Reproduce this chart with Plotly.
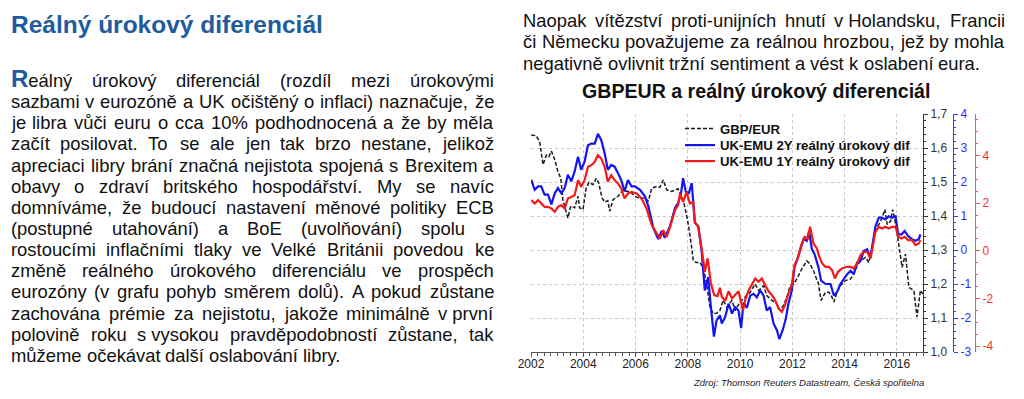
import plotly.graph_objects as go

# ---------------- data ----------------
gbp_t = [2002.01, 2002.20, 2002.33, 2002.46, 2002.59, 2002.68, 2002.78, 2002.91, 2003.03, 2003.14,
         2003.22, 2003.31, 2003.41, 2003.52, 2003.67, 2003.80, 2003.86, 2003.99, 2004.11, 2004.22,
         2004.37, 2004.50, 2004.59, 2004.72, 2004.82, 2004.94, 2005.01, 2005.14, 2005.33, 2005.52,
         2005.68, 2005.79, 2005.98, 2006.17, 2006.36, 2006.49, 2006.62, 2006.81, 2006.93, 2007.06,
         2007.19, 2007.38, 2007.51, 2007.63, 2007.76, 2007.82, 2007.95, 2008.02, 2008.15, 2008.21,
         2008.34, 2008.46, 2008.59, 2008.72, 2008.85, 2008.97, 2009.10, 2009.23, 2009.35, 2009.50,
         2009.69, 2009.81, 2010.00, 2010.20, 2010.39, 2010.58, 2010.71, 2010.90, 2011.02, 2011.22,
         2011.41, 2011.53, 2011.66, 2011.79, 2011.92, 2012.05, 2012.21, 2012.36, 2012.55, 2012.68,
         2012.81, 2013.00, 2013.10, 2013.27, 2013.40, 2013.52, 2013.59, 2013.71, 2013.84, 2014.03,
         2014.23, 2014.35, 2014.48, 2014.61, 2014.80, 2014.93, 2015.05, 2015.18, 2015.31, 2015.43,
         2015.54, 2015.63, 2015.76, 2015.84, 2015.97, 2016.07, 2016.20, 2016.33, 2016.46, 2016.65,
         2016.77, 2016.90, 2016.99]
gbp_v = [1.638, 1.636, 1.618, 1.551, 1.579, 1.574, 1.591, 1.565, 1.531, 1.511,
         1.448, 1.424, 1.394, 1.429, 1.424, 1.458, 1.424, 1.419, 1.482, 1.499,
         1.492, 1.511, 1.497, 1.453, 1.441, 1.445, 1.414, 1.448, 1.458, 1.477,
         1.472, 1.472, 1.458, 1.451, 1.453, 1.443, 1.482, 1.487, 1.484, 1.506,
         1.477, 1.472, 1.477, 1.480, 1.458, 1.449, 1.404, 1.375, 1.307, 1.268,
         1.263, 1.263, 1.249, 1.200, 1.132, 1.113, 1.114, 1.122, 1.152, 1.132,
         1.152, 1.122, 1.147, 1.161, 1.176, 1.200, 1.181, 1.195, 1.166, 1.152,
         1.142, 1.122, 1.137, 1.161, 1.195, 1.200, 1.220, 1.244, 1.268, 1.259,
         1.239, 1.200, 1.152, 1.176, 1.176, 1.161, 1.147, 1.176, 1.195, 1.210,
         1.215, 1.229, 1.254, 1.268, 1.278, 1.263, 1.317, 1.365, 1.375, 1.394,
         1.419, 1.375, 1.385, 1.419, 1.370, 1.317, 1.249, 1.288, 1.190, 1.181,
         1.103, 1.181, 1.171]

d2_t = [2002.01, 2002.14, 2002.27, 2002.39, 2002.52, 2002.65, 2002.78, 2002.91, 2003.03, 2003.16,
        2003.29, 2003.41, 2003.54, 2003.67, 2003.80, 2003.92, 2004.05, 2004.18, 2004.31, 2004.44,
        2004.56, 2004.69, 2004.82, 2004.94, 2005.07, 2005.20, 2005.33, 2005.45, 2005.58, 2005.71,
        2005.85, 2005.98, 2006.17, 2006.36, 2006.49, 2006.68, 2006.87, 2007.00, 2007.12, 2007.32,
        2007.51, 2007.63, 2007.74, 2007.82, 2007.92, 2008.04, 2008.15, 2008.27, 2008.40, 2008.53,
        2008.65, 2008.78, 2008.88, 2009.00, 2009.10, 2009.23, 2009.30, 2009.43, 2009.56, 2009.69,
        2009.81, 2009.94, 2010.04, 2010.13, 2010.26, 2010.39, 2010.52, 2010.64, 2010.77, 2010.90,
        2011.02, 2011.15, 2011.28, 2011.41, 2011.50, 2011.63, 2011.75, 2011.85, 2011.98, 2012.08,
        2012.17, 2012.30, 2012.43, 2012.55, 2012.64, 2012.75, 2012.85, 2013.00, 2013.10, 2013.27,
        2013.46, 2013.59, 2013.71, 2013.84, 2013.97, 2014.10, 2014.23, 2014.35, 2014.48, 2014.61,
        2014.73, 2014.86, 2014.99, 2015.08, 2015.18, 2015.31, 2015.43, 2015.56, 2015.69, 2015.82,
        2015.95, 2016.05, 2016.18, 2016.30, 2016.43, 2016.58, 2016.71, 2016.84, 2016.90]
d2_v = [2.06, 1.77, 1.87, 1.87, 1.63, 1.63, 1.34, 1.67, 1.82, 1.67,
        1.82, 2.21, 2.02, 2.31, 2.74, 2.36, 2.60, 3.08, 3.13, 3.13,
        3.42, 3.23, 2.84, 2.36, 2.50, 2.45, 2.26, 2.06, 1.72, 2.06,
        1.87, 1.87, 1.77, 1.58, 1.29, 0.65, 0.32, 0.56, 0.36, 0.70,
        1.24, 1.38, 1.67, 2.11, 1.72, 1.67, 1.97, 0.80, 0.70, -0.03,
        -1.19, -0.80, -1.65, -2.55, -2.07, -1.92, -2.16, -1.97, -1.58, -1.87,
        -1.68, -1.78, -2.30, -1.55, -1.70, -1.34, -1.29, -1.39, -1.19, -1.34,
        -1.78, -1.68, -2.16, -2.36, -2.62, -2.36, -2.02, -1.58, -1.19, -0.51,
        -0.32, -0.03, 0.32, 0.27, 0.56, 0.02, -0.12, -0.51, -0.90, -1.00,
        -1.00, -1.34, -1.24, -1.00, -0.85, -0.71, -0.61, -0.71, -0.37, -0.32,
        -0.03, 0.02, -0.22, 0.27, 0.70, 0.95, 0.95, 0.90, 0.99, 0.95,
        0.99, 0.46, 0.46, 0.56, 0.41, 0.32, 0.27, 0.32, 0.46]

d1_t = [2002.01, 2002.14, 2002.27, 2002.39, 2002.52, 2002.65, 2002.78, 2002.91, 2003.03, 2003.16,
        2003.29, 2003.41, 2003.54, 2003.67, 2003.80, 2003.92, 2004.05, 2004.18, 2004.31, 2004.44,
        2004.56, 2004.69, 2004.82, 2004.94, 2005.07, 2005.20, 2005.33, 2005.45, 2005.58, 2005.71,
        2005.85, 2006.04, 2006.23, 2006.42, 2006.62, 2006.81, 2006.93, 2007.06, 2007.19, 2007.32,
        2007.51, 2007.63, 2007.70, 2007.82, 2007.95, 2008.08, 2008.21, 2008.27, 2008.40, 2008.55,
        2008.65, 2008.76, 2008.88, 2009.01, 2009.14, 2009.23, 2009.30, 2009.43, 2009.56, 2009.69,
        2009.81, 2009.94, 2010.11, 2010.20, 2010.33, 2010.45, 2010.58, 2010.71, 2010.83, 2010.96,
        2011.09, 2011.22, 2011.34, 2011.47, 2011.60, 2011.72, 2011.85, 2011.98, 2012.08, 2012.21,
        2012.34, 2012.47, 2012.59, 2012.68, 2012.81, 2012.94, 2013.01, 2013.14, 2013.27, 2013.40,
        2013.52, 2013.63, 2013.75, 2013.90, 2014.10, 2014.23, 2014.35, 2014.48, 2014.61, 2014.73,
        2014.86, 2014.99, 2015.08, 2015.18, 2015.31, 2015.43, 2015.56, 2015.69, 2015.82, 2015.95,
        2016.05, 2016.18, 2016.30, 2016.43, 2016.58, 2016.71, 2016.84, 2016.90]
d1_v = [2.13, 1.99, 2.13, 1.99, 1.85, 1.85, 1.78, 1.64, 1.85, 1.92,
        1.78, 2.20, 2.27, 2.34, 2.97, 2.69, 2.97, 3.53, 3.60, 3.74,
        4.02, 3.88, 3.53, 2.90, 3.18, 2.97, 2.83, 2.62, 2.20, 2.41,
        2.48, 2.41, 2.20, 1.78, 1.08, 0.73, 0.52, 0.87, 0.59, 1.01,
        1.71, 1.92, 2.41, 2.06, 2.48, 1.99, 2.06, 1.22, 1.01, -0.04,
        -0.88, -0.32, -1.35, -1.86, -1.90, -1.55, -1.93, -2.10, -1.70, -2.00,
        -1.85, -1.70, -2.50, -2.05, -1.65, -1.44, -1.16, -1.30, -1.16, -1.44,
        -1.70, -1.86, -2.07, -2.42, -2.56, -2.28, -1.79, -1.44, -0.60, -0.32,
        0.24, 0.59, 0.52, 1.01, 0.31, 0.10, -0.18, -0.53, -0.67, -0.67,
        -0.81, -1.16, -0.88, -0.74, -0.67, -0.67, -0.74, -0.53, -0.18, -0.04,
        -0.04, -0.32, 0.24, 0.80, 1.01, 0.94, 1.01, 0.94, 1.01, 1.01,
        0.59, 0.52, 0.59, 0.45, 0.45, 0.24, 0.31, 0.45]

series_names = ["GBP/EUR", "UK-EMU 2Y reálný úrokový dif", "UK-EMU 1Y reálný úrokový dif"]

x_tickvals = [2002, 2004, 2006, 2008, 2010, 2012, 2014, 2016]
x_ticktext = ["2002", "2004", "2006", "2008", "2010", "2012", "2014", "2016"]
gbp_tickvals = [1.0, 1.1, 1.2, 1.3, 1.4, 1.5, 1.6, 1.7]
gbp_ticktext = ["1,0", "1,1", "1,2", "1,3", "1,4", "1,5", "1,6", "1,7"]
d2_tickvals = [-3, -2, -1, 0, 1, 2, 3, 4]
d2_ticktext = ["-3", "-2", "-1", "0", "1", "2", "3", "4"]
d1_tickvals = [-4, -2, 0, 2, 4]
d1_ticktext = ["-4", "-2", "0", "2", "4"]

chart_title = "GBPEUR a reálný úrokový diferenciál"
source_text = "Zdroj: Thomson Reuters Datastream, Česká spořitelna"
page_heading = "Reálný úrokový diferenciál"

left_lines = [
    "Reálný úrokový diferenciál (rozdíl mezi úrokovými",
    "sazbami v eurozóně a UK očištěný o inflaci) naznačuje, že",
    "je libra vůči euru o cca 10% podhodnocená a že by měla",
    "začít posilovat. To se ale jen tak brzo nestane, jelikož",
    "apreciaci libry brání značná nejistota spojená s Brexitem a",
    "obavy o zdraví britského hospodářství. My se navíc",
    "domníváme, že budoucí nastavení měnové politiky ECB",
    "(postupné utahování) a BoE (uvolňování) spolu s",
    "rostoucími inflačními tlaky ve Velké Británii povedou ke",
    "změně reálného úrokového diferenciálu ve prospěch",
    "eurozóny (v grafu pohyb směrem dolů). A pokud zůstane",
    "zachována prémie za nejistotu, jakože minimálně v\u00a0první",
    "polovině roku s\u00a0vysokou pravděpodobností zůstane, tak",
    "můžeme očekávat další oslabování libry.",
]
right_lines = [
    "Naopak vítězství proti-unijních hnutí v\u00a0Holandsku, Francii",
    "či Německu považujeme za reálnou hrozbou, jež by mohla",
    "negativně ovlivnit tržní sentiment a vést k oslabení eura.",
]

# ---------------- styling / layout constants ----------------
OFF = 8                      # the page body margin offsets the figure
W, H = 1024 - OFF, 399 - OFF
FONT = "Liberation Sans, Arial, sans-serif"
BLUE_HEAD = "#1f5b9e"
BODY = 18.4


def px(x):
    return (x - OFF) / W


def py(y):
    return 1 - (y - OFF) / H


# Arial (Liberation Sans) advance widths, 1/1000 em
AW = {' ': 278, '\u00a0': 278, '.': 278, ',': 278, ':': 278, '(': 333, ')': 333, '-': 333, '%': 889, '/': 278}
for ch in "abdeghnopquáéěňóúů0123456789": AW[ch] = 556
for ch in "ckszvxyčšžý": AW.setdefault(ch, 500)
AW.update({'f': 278, 't': 278, 'i': 222, 'j': 222, 'l': 222, 'í': 278, 'r': 333, 'ř': 333, 'm': 833, 'w': 722})
AW.update({'A': 667, 'B': 667, 'C': 722, 'Č': 722, 'D': 722, 'E': 667, 'Ě': 667, 'F': 611, 'G': 778, 'H': 722,
           'I': 278, 'J': 500, 'K': 667, 'L': 556, 'M': 833, 'N': 722, 'O': 778, 'P': 667, 'R': 722, 'S': 667,
           'T': 611, 'U': 722, 'V': 667, 'Y': 667, 'Z': 611})


def tw(s, size):
    return sum(AW.get(c, 556) for c in s) * size / 1000.0


annotations = []


def word_ann(text, x, y, size, anchor="left", color="#111111"):
    annotations.append(dict(text=text, x=px(x), y=py(y), xref="paper", yref="paper", showarrow=False,
                            xanchor=anchor, yanchor="middle", borderpad=0, borderwidth=0,
                            font=dict(family=FONT, size=size, color=color)))


def add_line(line, x0, x1, y, justify, dropcap=None):
    words = line.split(" ")
    widths = [tw(w, BODY) for w in words]
    texts = list(words)
    ys = [y] * len(words)
    if dropcap:
        dsize = 24
        first = words[0]
        widths[0] = AW[first[0]] * dsize / 1000.0 + tw(first[1:], BODY)
        texts[0] = ("<b><span style='font-size:%dpx;color:%s'>%s</span></b>%s"
                    % (dsize, BLUE_HEAD, first[0], first[1:]))
        ys[0] = y - 1.9
    if justify and len(words) > 1:
        gap = (x1 - x0 - sum(widths)) / (len(words) - 1)
    else:
        gap = tw(" ", BODY)
    x = x0
    for i, t in enumerate(texts):
        if justify and i == len(texts) - 1 and len(texts) > 1:
            word_ann(t, x1, ys[i], BODY, anchor="right")
        else:
            word_ann(t, x, ys[i], BODY)
        x += widths[i] + gap


# left column
word_ann("<b>%s</b>" % page_heading, 10.5, 24, 24.5, color=BLUE_HEAD)
for i, line in enumerate(left_lines):
    add_line(line, 11, 493.5, 80.6 + 21.13 * i, justify=(i < len(left_lines) - 1), dropcap=(i == 0))

# right column text
for i, line in enumerate(right_lines):
    add_line(line, 523, 1004.5, 20.5 + 21.5 * i, justify=(i < len(right_lines) - 1))

# chart title and source
annotations.append(dict(text="<b>%s</b>" % chart_title, x=px(755.5), y=py(91.5), xref="paper", yref="paper",
                        showarrow=False, xanchor="center", yanchor="middle", borderpad=0, borderwidth=0,
                        font=dict(family=FONT, size=19.6, color="#111111")))
annotations.append(dict(text="<i>%s</i>" % source_text, x=px(924), y=py(382), xref="paper", yref="paper",
                        showarrow=False, xanchor="right", yanchor="middle", borderpad=0, borderwidth=0,
                        font=dict(family=FONT, size=9.5, color="#222222")))

fig = go.Figure()
fig.add_trace(go.Scatter(x=gbp_t, y=gbp_v, mode="lines", name=series_names[0], yaxis="y", legend="legend",
                         line=dict(color="#1a1a1a", width=1.5, dash="4px,2px")))
fig.add_trace(go.Scatter(x=d2_t, y=d2_v, mode="lines", name=series_names[1], yaxis="y2", legend="legend2",
                         line=dict(color="#1414f0", width=2.2)))
fig.add_trace(go.Scatter(x=d1_t, y=d1_v, mode="lines", name=series_names[2], yaxis="y3", legend="legend3",
                         line=dict(color="#f51a1a", width=2.2)))

# white panel behind the legend that hides the grid (drawn above grid, below traces)
try:
    fig.add_shape(type="rect", xref="paper", yref="paper", x0=px(679), x1=px(918), y0=py(171), y1=py(120),
                  fillcolor="white", line=dict(width=0), layer="between")
except Exception:
    pass

GRID = "#c8c8c8"
LEG_FONT = dict(family=FONT, size=13.2, color="#111111", weight="bold")


def leg(ycenter):
    return dict(x=px(680), y=py(ycenter), xanchor="left", yanchor="middle", bgcolor="rgba(0,0,0,0)",
                font=LEG_FONT, itemwidth=30, borderwidth=0)


fig.update_layout(
    template="none",
    width=W, height=H, margin=dict(l=0, r=0, t=0, b=0, pad=0, autoexpand=False),
    paper_bgcolor="white", plot_bgcolor="white",
    font=dict(family=FONT, color="#222222"),
    showlegend=True,
    legend=leg(129), legend2=leg(145.5), legend3=leg(161.5),
    xaxis=dict(domain=[px(531), px(923)], range=[2002, 2017], tickmode="array", automargin=False,
               tickvals=x_tickvals, ticktext=x_ticktext, showgrid=True, gridcolor=GRID, griddash="dot",
               gridwidth=1, showline=True, linecolor="#555555", linewidth=1, ticks="outside", ticklen=4,
               tickcolor="#555555", tickfont=dict(size=12, color="#222222"), zeroline=False,
               ticklabelstandoff=-3,
               minor=dict(dtick=0.25, tick0=2002, ticks="outside", ticklen=3, tickcolor="#555555", showgrid=False)),
    yaxis=dict(domain=[py(352), py(114)], range=[1.0, 1.7], side="right", anchor="x", automargin=False,
               tickmode="array", tickvals=gbp_tickvals, ticktext=gbp_ticktext,
               showgrid=True, gridcolor=GRID, griddash="dot", gridwidth=1,
               showline=True, linecolor="#333333", linewidth=1, ticks="outside", ticklen=4,
               tickcolor="#333333", tickfont=dict(size=12, color="#333333"), zeroline=False,
               minor=dict(dtick=0.02, tick0=1.0, ticks="outside", ticklen=2, tickcolor="#333333", showgrid=False)),
    yaxis2=dict(overlaying="y", side="right", anchor="free", position=px(953), range=[-3, 4], automargin=False,
                tickmode="array", tickvals=d2_tickvals, ticktext=d2_ticktext, showgrid=False,
                showline=True, linecolor="#3a3aff", linewidth=1, ticks="outside", ticklen=4,
                tickcolor="#3a3aff", tickfont=dict(size=12, color="#2a2aff"), zeroline=False,
                minor=dict(dtick=0.2, tick0=0, ticks="outside", ticklen=2, tickcolor="#3a3aff", showgrid=False)),
    yaxis3=dict(overlaying="y", side="right", anchor="free", position=px(975), range=[-4.25, 5.75],
                automargin=False,
                tickmode="array", tickvals=d1_tickvals, ticktext=d1_ticktext, showgrid=False,
                showline=True, linecolor="#ff5050", linewidth=1, ticks="outside", ticklen=4,
                tickcolor="#ff5050", tickfont=dict(size=12, color="#f03030"), zeroline=False,
                minor=dict(dtick=0.5, tick0=0, ticks="outside", ticklen=2, tickcolor="#ff5050", showgrid=False)),
    annotations=annotations,
)

fig.write_html("out.html")
